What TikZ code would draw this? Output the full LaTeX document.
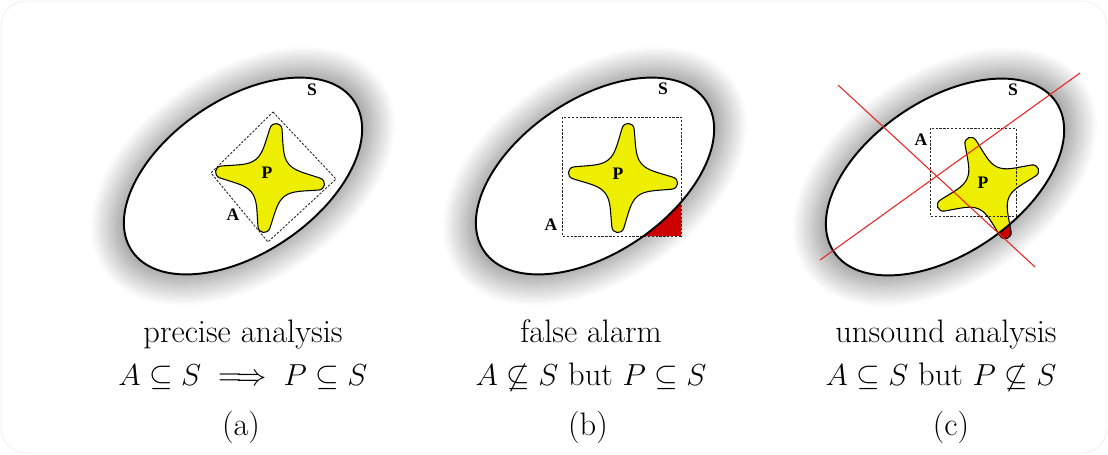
\documentclass[tikz,border=0pt]{standalone}
\usepackage{amsmath,amssymb}
\usepackage{fontspec}
\usepackage{tikz}
\usetikzlibrary{shadows.blur}
\newfontfamily\lblfont{Liberation Serif}
\definecolor{progyellow}{RGB}{238,238,0}
\definecolor{errred}{RGB}{204,0,0}
\definecolor{cutred}{RGB}{235,35,35}
% four-armed program shape, unit size
\newcommand{\progpath}{(0.9,0.11) .. controls (0.6,0.17) and (0.42,0.18) .. (0.3,0.3)
    .. controls (0.18,0.42) and (0.17,0.6) .. (0.11,0.9)
    .. controls (0.09,1.03) and (-0.09,1.03) .. (-0.11,0.9)
    .. controls (-0.17,0.6) and (-0.18,0.42) .. (-0.3,0.3)
    .. controls (-0.42,0.18) and (-0.6,0.17) .. (-0.9,0.11)
    .. controls (-1.03,0.09) and (-1.03,-0.09) .. (-0.9,-0.11)
    .. controls (-0.6,-0.17) and (-0.42,-0.18) .. (-0.3,-0.3)
    .. controls (-0.18,-0.42) and (-0.17,-0.6) .. (-0.11,-0.9)
    .. controls (-0.09,-1.03) and (0.09,-1.03) .. (0.11,-0.9)
    .. controls (0.17,-0.6) and (0.18,-0.42) .. (0.3,-0.3)
    .. controls (0.42,-0.18) and (0.6,-0.17) .. (0.9,-0.11)
    .. controls (1.03,-0.09) and (1.03,0.09) .. (0.9,0.11) -- cycle}

\begin{document}
\begin{tikzpicture}[x=0.02cm, y=-0.02cm,
    frame/.style={draw=black!6, line width=0.5pt, rounded corners=0.5cm},
    setbody/.style={fill=white, blur shadow={shadow xshift=0pt, shadow yshift=0pt, shadow scale=1.09, shadow blur radius=12pt, shadow blur steps=40, shadow opacity=45}},
    setline/.style={draw=black, line width=1.1pt},
    prog/.style={fill=progyellow, draw=black, line width=0.6pt},
    approx/.style={draw=black!85, line width=0.5pt, dash pattern=on 1.3pt off 0.9pt},
    cut/.style={draw=cutred, line width=0.6pt},
    setlbl/.style={font=\lblfont\bfseries\fontsize{10}{11}\selectfont, inner sep=0pt},
    caption/.style={font=\fontsize{18.5}{22}\selectfont, anchor=base, inner sep=0pt}]
    \useasboundingbox (0,0) rectangle (1108,454);
    % Outer frame
    \path[frame] (1,1) rectangle (1107,453);

    % Centres of the three sets S
    \coordinate (ca) at (243,176);
    \coordinate (cb) at (595,176);
    \coordinate (cc) at (945,177);

    % (a) precise analysis
    \path[setbody, rotate around={34:(ca)}] (ca) ellipse [x radius=2.68cm, y radius=1.54cm];
    \draw[prog, shift={(270,178)}, rotate=-7, scale=55] \progpath;
    \draw[approx] (273,112) -- (336,179) -- (268,242) -- (211,173) -- cycle;
    \draw[setline, rotate around={34:(ca)}] (ca) ellipse [x radius=2.68cm, y radius=1.54cm];
    \node[setlbl] (Sa) at (312,90) {S};
    \node[setlbl] (Aa) at (233,215) {A};
    \node[setlbl] (Pa) at (267,173) {P};

    % (b) false alarm
    \path[setbody, rotate around={34:(cb)}] (cb) ellipse [x radius=2.68cm, y radius=1.54cm];
    \begin{scope}
        \clip (562,117) rectangle (681,236);
        \fill[errred] (562,117) rectangle (681,236);
        \fill[white, rotate around={34:(cb)}] (cb) ellipse [x radius=2.68cm, y radius=1.54cm];
    \end{scope}
    \draw[prog, shift={(623,178)}, rotate=-6, scale=55] \progpath;
    \draw[approx] (562,117) rectangle (681,236);
    \draw[setline, rotate around={34:(cb)}] (cb) ellipse [x radius=2.68cm, y radius=1.54cm];
    \node[setlbl] (Sb) at (663,89) {S};
    \node[setlbl] (Ab) at (551,225) {A};
    \node[setlbl] (Pb) at (618,174) {P};

    % (c) unsound analysis
    \path[setbody, rotate around={34:(cc)}] (cc) ellipse [x radius=2.68cm, y radius=1.54cm];
    \fill[errred, shift={(988,188)}, rotate=21, scale=54] \progpath;
    \begin{scope}
        \clip[rotate around={34:(cc)}] (cc) ellipse [x radius=2.68cm, y radius=1.54cm];
        \fill[progyellow, shift={(988,188)}, rotate=21, scale=54] \progpath;
    \end{scope}
    \draw[black, line width=0.6pt, shift={(988,188)}, rotate=21, scale=54] \progpath;
    \draw[approx] (930,128) rectangle (1016,216);
    \draw[setline, rotate around={34:(cc)}] (cc) ellipse [x radius=2.68cm, y radius=1.54cm];
    \node[setlbl] (Sc) at (1013,90) {S};
    \node[setlbl] (Ac) at (921,140) {A};
    \node[setlbl] (Pc) at (983,183) {P};
    \coordinate (x1s) at (838,85);
    \coordinate (x1e) at (1035,267);
    \coordinate (x2s) at (820,260);
    \coordinate (x2e) at (1080,73);
    \draw[cut] (x1s) -- (x1e);
    \draw[cut] (x2s) -- (x2e);

    % Captions
    \node[caption] (ta) at (243,342) {precise analysis};
    \node[caption] (ma) at (243,385) {$A \subseteq S \implies P \subseteq S$};
    \node[caption] (la) at (241,435) {(a)};
    \node[caption] (tb) at (591,342) {false alarm};
    \node[caption] (mb) at (591,385) {$A \not\subseteq S$ but $P \subseteq S$};
    \node[caption] (lb) at (588,435) {(b)};
    \node[caption] (tc) at (946,342) {unsound analysis};
    \node[caption] (mc) at (941,385) {$A \subseteq S$ but $P \not\subseteq S$};
    \node[caption] (lc) at (951,435) {(c)};
\end{tikzpicture}
\end{document}
